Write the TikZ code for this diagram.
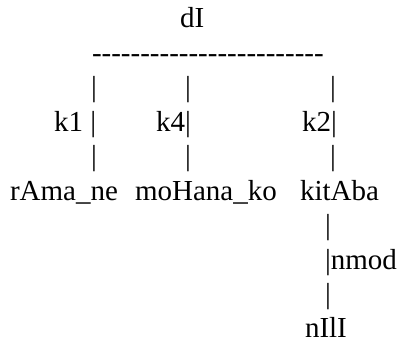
\documentclass[tikz,border=0pt]{standalone}
\usepackage{fontspec}
\setmainfont{Liberation Serif}[Ligatures=TeXOff]
\begin{document}
\begin{tikzpicture}[x=1pt,y=1pt,
  tok/.style={anchor=base west,inner sep=0pt,outer sep=0pt,font=\fontsize{29}{34}\selectfont}]
\useasboundingbox (0,0) rectangle (399,345);
% rows: baseline y from top = 28 + 34.44 i
\node[tok] (dI) at (180,345-28) {dI};
\node[tok] (bar) at (92,345-62.4) {------------------------};
% row 2
\node[tok] (a1) at (91,345-96.9) {|};
\node[tok] (b1) at (185,345-96.9) {|};
\node[tok] (c1) at (330,345-96.9) {|};
% row 3
\node[tok] (k1) at (54,345-131.3) {k1 |};
\node[tok] (k4) at (156,345-131.3) {k4|};
\node[tok] (k2) at (302,345-131.3) {k2|};
% row 4
\node[tok] (a2) at (91,345-165.8) {|};
\node[tok] (b2) at (185,345-165.8) {|};
\node[tok] (c2) at (330,345-165.8) {|};
% row 5
\node[tok] (rama) at (10,345-200.2) {rAma\_ne};
\node[tok] (mohana) at (135,345-200.2) {moHana\_ko};
\node[tok] (kitaba) at (300,345-200.2) {kitAba};
% rows 6-8
\node[tok] (d1) at (325,345-234.7) {|};
\node[tok] (nmod) at (325,345-269.1) {|nmod};
\node[tok] (d2) at (325,345-303.6) {|};
% row 9
\node[tok] (nili) at (305,345-338) {nIlI};
\end{tikzpicture}
\end{document}
